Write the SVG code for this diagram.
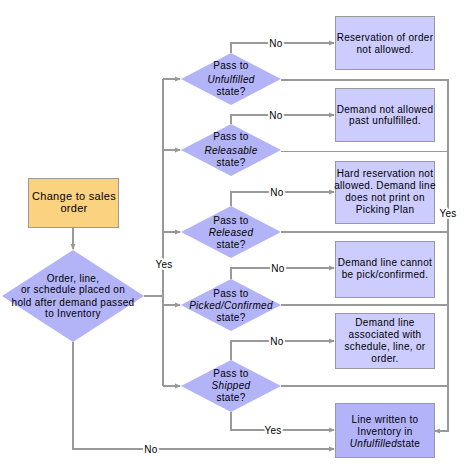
<svg xmlns="http://www.w3.org/2000/svg" width="474" height="475" viewBox="0 0 474 475">
<style>
.ln{fill:none;stroke:#999;stroke-width:2}
.thin{fill:none;stroke:#999;stroke-width:1}
.dia{fill:#b3b3f7;stroke:none}
.box{fill:#ccccff;stroke:#999;stroke-width:1}
.box6{fill:#b3b3fa;stroke:#999;stroke-width:1}
.start{fill:#fad280;stroke:#999;stroke-width:1}
text{font-family:"Liberation Sans",Arial,sans-serif;font-size:10px;fill:#000;text-anchor:middle;letter-spacing:0.3px}
.lbl{stroke:#fff;stroke-width:4;paint-order:stroke;stroke-linejoin:round}
.it{font-style:italic}
</style>
<defs>
<marker id="ah" markerWidth="6" markerHeight="6" refX="5" refY="3" orient="auto" markerUnits="userSpaceOnUse">
<path d="M0,0.5 L6,3 L0,5.5 z" fill="#999"/>
</marker>
</defs>
<rect width="474" height="475" fill="#fff"/>
<g id="connectors">
<line class="ln" x1="73" y1="227" x2="73" y2="249" marker-end="url(#ah)"/>
<polyline class="ln" points="144,296 163,296"/>
<line class="ln" x1="163" y1="79" x2="163" y2="386"/>
<line class="ln" x1="163" y1="79" x2="180" y2="79" marker-end="url(#ah)"/>
<line class="ln" x1="163" y1="150" x2="180" y2="150" marker-end="url(#ah)"/>
<line class="ln" x1="163" y1="232" x2="180" y2="232" marker-end="url(#ah)"/>
<line class="ln" x1="163" y1="305" x2="180" y2="305" marker-end="url(#ah)"/>
<line class="ln" x1="163" y1="386" x2="180" y2="386" marker-end="url(#ah)"/>
<polyline class="ln" points="231,53 231,43 334,43" marker-end="url(#ah)"/>
<polyline class="ln" points="231,124 231,115 334,115" marker-end="url(#ah)"/>
<polyline class="ln" points="231,206 231,192 334,192" marker-end="url(#ah)"/>
<polyline class="ln" points="231,279 231,268 334,268" marker-end="url(#ah)"/>
<polyline class="ln" points="231,360 231,341 334,341" marker-end="url(#ah)"/>
<polyline class="ln" points="231,412 231,430 334,430" marker-end="url(#ah)"/>
<polyline class="ln" points="73,342 73,449 334,449" marker-end="url(#ah)"/>
<polyline class="ln" points="281,80 448,80 448,431 435,431" marker-end="url(#ah)"/>
<line class="thin" x1="281" y1="151.5" x2="448" y2="151.5"/>
<line class="ln" x1="281" y1="232" x2="448" y2="232"/>
<line class="ln" x1="281" y1="305" x2="448" y2="305"/>
<line class="ln" x1="281" y1="386" x2="448" y2="386"/>
<text class="lbl" x="164" y="268">Yes</text>
<text class="lbl" x="448" y="217">Yes</text>
<text class="lbl" x="276" y="47">No</text>
<text class="lbl" x="276" y="119">No</text>
<text class="lbl" x="277" y="196">No</text>
<text class="lbl" x="278" y="272">No</text>
<text class="lbl" x="277" y="345">No</text>
<text class="lbl" x="273" y="434">Yes</text>
<text class="lbl" x="151" y="453">No</text>
</g>
<g id="start">
<rect class="start" x="28.5" y="178.5" width="90" height="49"/>
<text x="74" y="200" style="font-size:11px">Change to sales</text>
<text x="74" y="212" style="font-size:11px">order</text>
</g>
<g id="hold">
<polygon class="dia" points="73,250 144,296 73,342 2,296"/>
<text x="73" y="282">Order, line,</text>
<text x="73" y="293">or schedule placed on</text>
<text x="73" y="306">hold after demand passed</text>
<text x="73" y="317">to Inventory</text>
</g>
<g id="d1">
<polygon class="dia" points="231,53 281,79 231,105 181,79"/>
<text x="231" y="69">Pass to</text>
<text x="231" y="83" class="it">Unfulfilled</text>
<text x="231" y="95">state?</text>
</g>
<g id="d2">
<polygon class="dia" points="231,124 281,150 231,176 181,150"/>
<text x="231" y="140">Pass to</text>
<text x="231" y="154" class="it">Releasable</text>
<text x="231" y="166">state?</text>
</g>
<g id="d3">
<polygon class="dia" points="231,206 281,232 231,258 181,232"/>
<text x="231" y="224">Pass to</text>
<text x="231" y="236" class="it">Released</text>
<text x="231" y="248">state?</text>
</g>
<g id="d4">
<polygon class="dia" points="231,279 281,305 231,331 181,305"/>
<text x="231" y="297">Pass to</text>
<text x="231" y="309" class="it">Picked/Confirmed</text>
<text x="231" y="321">state?</text>
</g>
<g id="d5">
<polygon class="dia" points="231,360 281,386 231,412 181,386"/>
<text x="231" y="377">Pass to</text>
<text x="231" y="389" class="it">Shipped</text>
<text x="231" y="401">state?</text>
</g>
<g id="b1">
<rect class="box" x="335.5" y="16.5" width="99" height="53"/>
<text x="385" y="41">Reservation of order</text>
<text x="385" y="53">not allowed.</text>
</g>
<g id="b2">
<rect class="box" x="335.5" y="88.5" width="99" height="53"/>
<text x="385" y="113">Demand not allowed</text>
<text x="385" y="124">past unfulfilled.</text>
</g>
<g id="b3">
<rect class="box" x="335.5" y="161.5" width="99" height="62"/>
<text x="385" y="177">Hard reservation not</text>
<text x="385" y="189">allowed. Demand line</text>
<text x="385" y="201">does not print on</text>
<text x="385" y="213">Picking Plan</text>
</g>
<g id="b4">
<rect class="box" x="335.5" y="241.5" width="99" height="56"/>
<text x="385" y="266">Demand line cannot</text>
<text x="385" y="278">be pick/confirmed.</text>
</g>
<g id="b5">
<rect class="box" x="335.5" y="313.5" width="99" height="55"/>
<text x="385" y="326">Demand line</text>
<text x="385" y="338">associated with</text>
<text x="385" y="350">schedule, line, or</text>
<text x="385" y="362">order.</text>
</g>
<g id="b6">
<rect class="box6" x="335.5" y="403.5" width="99" height="54"/>
<text x="385" y="423">Line written to</text>
<text x="385" y="435">Inventory in</text>
<text x="385" y="447"><tspan class="it">Unfulfilled</tspan>state</text>
</g>
</svg>
